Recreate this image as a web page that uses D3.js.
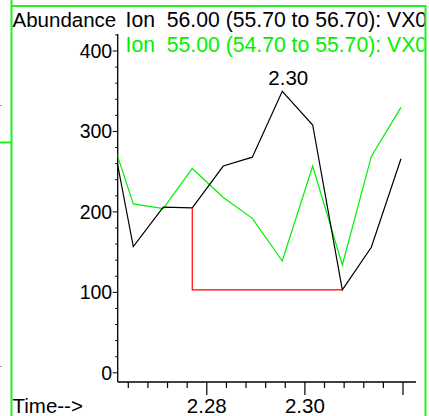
<!DOCTYPE html>
<html>
<head>
<meta charset="utf-8">
<script src="https://cdn.jsdelivr.net/npm/d3@7"></script>
<style>
body{margin:0;background:#fff;}
svg{display:block;font-family:"Liberation Sans",Arial,sans-serif;}
</style>
</head>
<body>
<svg id="chart" width="429" height="416"></svg>
<script>
// retention times (min) of the scans
const times=[2.25896,2.26502,2.27113,2.27704,2.28336,2.28928,2.29539,2.30159,2.30763,2.31354,2.31959];
// ion 56.00 (black) and ion 55.00 (green) abundances
const ion56=[350,157,206,205,257,268,350,308,103,156,266];
const ion55=[322,210,204,254,218,192,139,257,134,269,330];
// integration baseline: start scan, end scan, level
const baseStart=2.27704, baseEnd=2.30763, baseStartVal=205, baseLevel=103;
const peakTime=2.29539, peakVal=350, peakLabel="2.30";
const xTickLabels=["2.28","2.30"];
const xMajor=[2.28,2.30,2.32];
const yTicks=[0,100,200,300,400];
const headers=[{text:"Ion  56.00 (55.70 to 56.70): VX0",color:"#000"},{text:"Ion  55.00 (54.70 to 55.70): VX0",color:"#00f000"}];

const svg=d3.select("#chart");
const green="#22f022";
const fs="20.5px", fsY="19.5px", fsH="21.2px";
const L=117.7,R=416,T=34,B=382;

const x=d3.scaleLinear().domain([2.26184,2.32265]).range([L,R]);
const y=d3.scaleLinear().domain([0,400]).range([372.8,51]);

// frame
svg.append("line").attr("x1",11.5).attr("x2",11.5).attr("y1",0).attr("y2",416).attr("stroke",green).attr("stroke-width",2);
svg.append("line").attr("x1",11).attr("x2",426).attr("y1",6).attr("y2",6).attr("stroke",green).attr("stroke-width",2);
svg.append("line").attr("x1",425.5).attr("x2",425.5).attr("y1",5).attr("y2",416).attr("stroke",green).attr("stroke-width",2);
svg.append("line").attr("x1",0).attr("x2",11).attr("y1",142.5).attr("y2",142.5).attr("stroke",green).attr("stroke-width",2);
svg.append("rect").attr("x",0).attr("y",105).attr("width",2).attr("height",1).attr("fill","#999");
svg.append("rect").attr("x",0).attr("y",366).attr("width",2).attr("height",1).attr("fill","#999");

const defs=svg.append("defs");
defs.append("clipPath").attr("id","plotclip").append("rect").attr("x",L).attr("y",T).attr("width",R-L).attr("height",B-T);
defs.append("clipPath").attr("id","textclip").append("rect").attr("x",0).attr("y",0).attr("width",424.5).attr("height",416);

// titles
svg.append("text").attr("x",12.5).attr("y",26.5).style("font-size",fs).attr("fill","#000").text("Abundance");
const ht=svg.append("g").attr("clip-path","url(#textclip)");
headers.forEach((h,i)=>{ht.append("text").attr("x",125.5).attr("y",26.5+i*25).attr("xml:space","preserve").style("white-space","pre").style("font-size",fsH).attr("fill",h.color).text(h.text);});

// y axis
svg.append("line").attr("x1",L).attr("x2",L).attr("y1",T).attr("y2",B).attr("stroke","#000").attr("stroke-width",1.3);
const yMinor=d3.range(0,421,20);
svg.selectAll(".ymin").data(yMinor).enter().append("line").attr("class","ymin")
  .attr("x1",d=>d%100===0?L-5:L-2.5).attr("x2",L).attr("y1",d=>y(d)).attr("y2",d=>y(d)).attr("stroke","#000").attr("stroke-width",1);
svg.selectAll(".ylab").data(yTicks).enter().append("text").attr("class","ylab")
  .attr("x",L-5.5).attr("y",d=>y(d)).attr("dy","0.36em").attr("text-anchor","end").style("font-size",fsY).text(d=>d);

// x axis
svg.append("line").attr("x1",L).attr("x2",R).attr("y1",B).attr("y2",B).attr("stroke","#000").attr("stroke-width",1.3);
const xMinor=d3.range(0,15).map(i=>+(2.264+i*0.004).toFixed(3));
svg.selectAll(".xmin").data(xMinor).enter().append("line").attr("class","xmin")
  .attr("x1",d=>x(d)).attr("x2",d=>x(d)).attr("y1",B)
  .attr("y2",d=>xMajor.some(m=>Math.abs(m-d)<1e-6)?B+13:B+6).attr("stroke","#000").attr("stroke-width",1.2);
svg.selectAll(".xlab").data(xTickLabels).enter().append("text").attr("class","xlab")
  .attr("x",d=>x(+d)).attr("y",413).attr("text-anchor","middle").style("font-size",fs).text(d=>d);
svg.append("text").attr("x",12.5).attr("y",413).style("font-size",fs).text("Time-->");

// traces
const plot=svg.append("g").attr("clip-path","url(#plotclip)");
const line=d3.line().x(d=>x(d[0])).y(d=>y(d[1]));
plot.append("path").datum(times.map((t,i)=>[t,ion55[i]])).attr("d",line).attr("fill","none").attr("stroke","#00f000").attr("stroke-width",1.2);
plot.append("path").datum(times.map((t,i)=>[t,ion56[i]])).attr("d",line).attr("fill","none").attr("stroke","#000").attr("stroke-width",1.2);
plot.append("path").datum([[baseStart,baseStartVal],[baseStart,baseLevel],[baseEnd,baseLevel]]).attr("d",line).attr("fill","none").attr("stroke","#f00").attr("stroke-width",1.2);

svg.append("text").attr("x",x(peakTime)+6).attr("y",y(peakVal)-6).attr("text-anchor","middle").style("font-size",fs).text(peakLabel);
</script>
</body>
</html>
